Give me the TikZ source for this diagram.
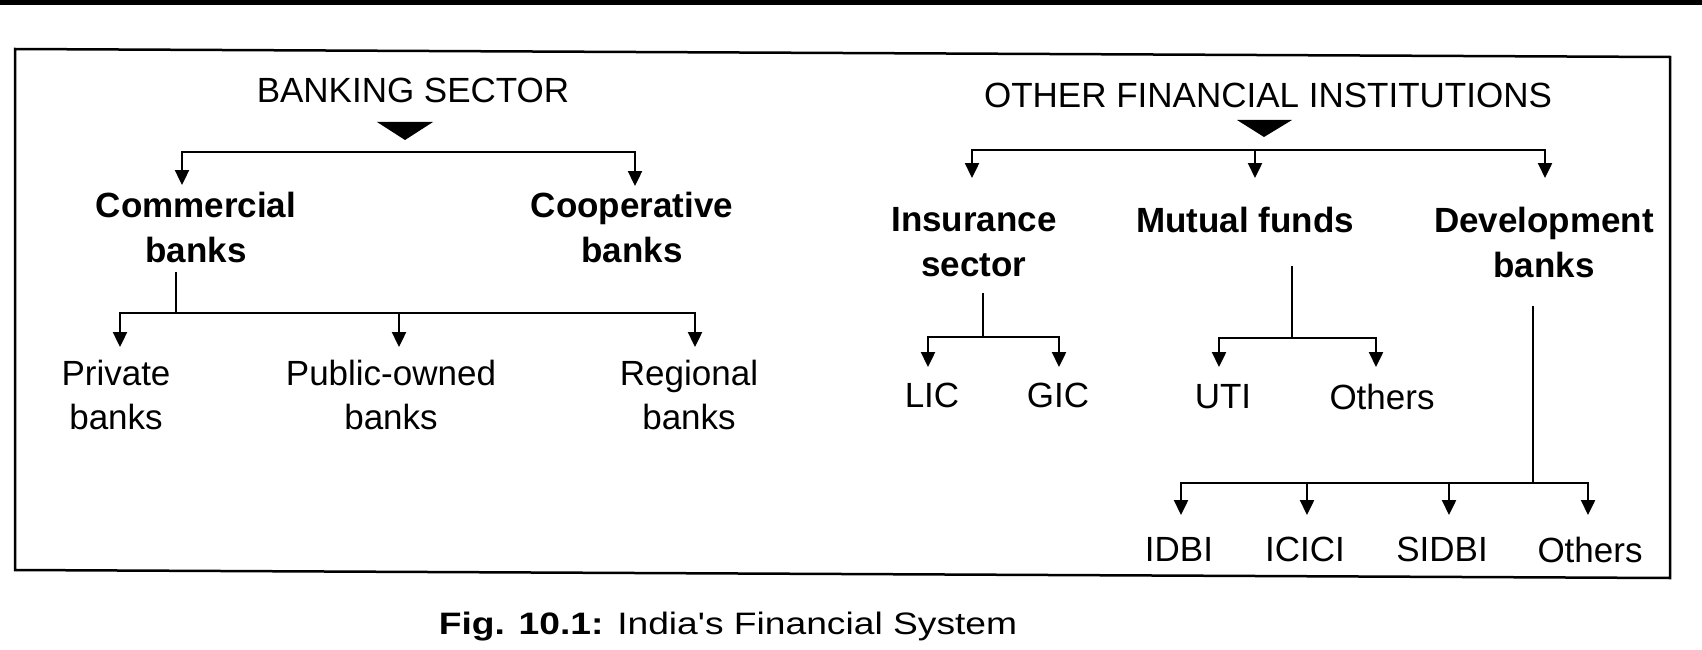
\documentclass[tikz,border=0pt]{standalone}
\usepackage{fontspec}
\setmainfont{Liberation Sans}
\newfontfamily\capfont[FakeStretch=1.2]{Liberation Sans}
\usetikzlibrary{arrows.meta}
\tikzset{
  conn/.style={line width=2.4pt, line join=miter},
  arr/.style={conn, -{Triangle[width=14pt,length=15pt]}},
  twoarr/.style={conn, {Triangle[width=14pt,length=15pt]}-{Triangle[width=14pt,length=15pt]}},
  cat/.style={font=\bfseries\fontsize{35}{45}\selectfont, align=center, anchor=north, inner sep=0pt},
  leaf/.style={font=\fontsize{35}{44}\selectfont, align=center, anchor=north, inner sep=0pt},
  head/.style={font=\fontsize{35}{42}\selectfont, anchor=north, inner sep=0pt},
  tri/.style={fill=black},
}
\begin{document}
\begin{tikzpicture}[x=1pt,y=-1pt]
\useasboundingbox (0,0) rectangle (1702,650);
\fill[white] (0,0) rectangle (1702,650);
% top black band
\fill[black] (0,0) rectangle (1702,5);
% frame
\draw[line width=2.5pt] (15,49) -- (1670,57) -- (1670,578) -- (15,570) -- cycle;

% ---------- Banking sector ----------
\node[head] (bank) at (413,78) {BANKING SECTOR};
\fill[tri] (377,122) -- (433,122) -- (405,140) -- cycle;
\coordinate (bankH) at (405,152);
\coordinate (commIn) at (182,185);
\coordinate (coopIn) at (635,186);
\draw[twoarr] (commIn) -- (commIn |- bankH) -- (coopIn |- bankH) -- (coopIn);

\node[cat] (comm) at (196,192) {Commercial\\banks};
\node[cat] (coop) at (632,192) {Cooperative\\banks};

\coordinate (commS) at (176,272);
\coordinate (commH) at (176,313);
\draw[conn] (commS) -- (commH);
\coordinate (privIn) at (120,347);
\coordinate (pubIn) at (399,347);
\coordinate (regIn) at (695,347);
\draw[twoarr] (privIn) -- (privIn |- commH) -- (regIn |- commH) -- (regIn);
\draw[arr] (pubIn |- commH) -- (pubIn);

\node[leaf] (priv) at (116,360) {Private\\banks};
\node[leaf] (pub) at (391,360) {Public-owned\\banks};
\node[leaf] (reg) at (689,360) {Regional\\banks};

% ---------- Other financial institutions ----------
\node[head] (other) at (1268,83) {OTHER FINANCIAL INSTITUTIONS};
\fill[tri] (1237,120) -- (1292,120) -- (1264,137) -- cycle;
\coordinate (othH) at (1264,150);
\coordinate (insIn) at (972,178);
\coordinate (mutIn) at (1255,178);
\coordinate (devIn) at (1545,178);
\draw[twoarr] (insIn) -- (insIn |- othH) -- (devIn |- othH) -- (devIn);
\draw[arr] (mutIn |- othH) -- (mutIn);

\node[cat] (ins) at (974,207) {Insurance\\sector};
\node[cat] (mut) at (1245,207) {Mutual funds};
\node[cat] (dev) at (1544,207) {Development\\banks};

% insurance
\coordinate (insS) at (983,293);
\coordinate (insH) at (983,337);
\draw[conn] (insS) -- (insH);
\coordinate (licIn) at (928,367);
\coordinate (gicIn) at (1059,367);
\draw[twoarr] (licIn) -- (licIn |- insH) -- (gicIn |- insH) -- (gicIn);
\node[leaf] (lic) at (932,383) {LIC};
\node[leaf] (gic) at (1058,383) {GIC};

% mutual funds
\coordinate (mutS) at (1292,266);
\coordinate (mutH) at (1292,338);
\draw[conn] (mutS) -- (mutH);
\coordinate (utiIn) at (1219,367);
\coordinate (othMIn) at (1376,367);
\draw[twoarr] (utiIn) -- (utiIn |- mutH) -- (othMIn |- mutH) -- (othMIn);
\node[leaf] (uti) at (1223,384) {UTI};
\node[leaf] (othM) at (1382,384) {Others};

% development banks
\coordinate (devS) at (1533,306);
\coordinate (devH) at (1533,483);
\draw[conn] (devS) -- (devH);
\coordinate (idbiIn) at (1181,515);
\coordinate (iciciIn) at (1307,515);
\coordinate (sidbiIn) at (1449,515);
\coordinate (othDIn) at (1588,515);
\draw[twoarr] (idbiIn) -- (idbiIn |- devH) -- (othDIn |- devH) -- (othDIn);
\draw[arr] (iciciIn |- devH) -- (iciciIn);
\draw[arr] (sidbiIn |- devH) -- (sidbiIn);
\node[leaf] (idbi) at (1179,537) {IDBI};
\node[leaf] (icici) at (1305,537) {ICICI};
\node[leaf] (sidbi) at (1442,537) {SIDBI};
\node[leaf] (othD) at (1590,537) {Others};

% caption
\node[font=\capfont\fontsize{31}{38}\selectfont, anchor=base, inner sep=0pt] (cap) at (728,634) {\textbf{Fig. 10.1:} India's Financial System};
\end{tikzpicture}
\end{document}
